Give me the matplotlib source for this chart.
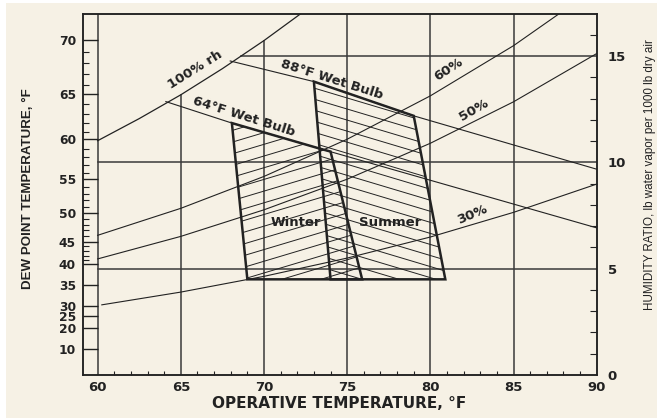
import numpy as np
import matplotlib
matplotlib.use("Agg")
import matplotlib.pyplot as plt
from matplotlib.patches import Polygon, Rectangle
from matplotlib import font_manager

# ---------------- data ----------------
sat_T = [60, 62.5, 65, 67.5, 70, 72.5]
sat_W = [11.02, 12.06, 13.18, 14.41, 15.73, 17.16]

rh_T = [60, 65, 70, 75, 80, 85, 90]
rh60_W = [6.57, 7.84, 9.34, 11.09, 13.13, 15.49, 18.23]
rh50_W = [5.46, 6.52, 7.77, 9.21, 10.90, 12.85, 15.12]
rh30_T = [60.25, 65, 70, 75, 80, 85, 90]
rh30_W = [3.30, 3.90, 4.64, 5.50, 6.49, 7.65, 8.98]

wb64_T = [64.10, 68.07, 73.39, 90.0]
wb64_W = [12.86, 11.85, 10.64, 6.92]
wb68_T = [67.97, 73.0, 79.0, 90.0]
wb68_W = [14.77, 13.80, 12.19, 9.68]

winter_T = [68.07, 73.39, 74.0, 75.9, 69.0]
winter_W = [11.85, 10.64, 10.51, 4.5, 4.5]
summer_T = [73.0, 79.0, 80.9, 74.0]
summer_W = [13.80, 12.19, 4.5, 4.5]

x_ticks = [60, 65, 70, 75, 80, 85, 90]
dp_labels = ["70", "65", "60", "55", "50", "45", "40", "35", "30", "25", "20", "10"]
dp_W = [15.76, 13.21, 11.10, 9.22, 7.64, 6.26, 5.20, 4.21, 3.24, 2.77, 2.23, 1.24]
dp_minor = [41, 42, 43, 44, 46, 47, 48, 49, 51, 52, 53, 54, 56, 57, 58, 59,
            61, 62, 63, 64, 66, 67, 68, 69]
w_ticks = [0, 5, 10, 15]
w_minor = [1, 2, 3, 4, 6, 7, 8, 9, 11, 12, 13, 14, 16]
grid_T = [60, 65, 70, 75, 80, 85]
grid_W = [5, 10, 15]


def dewpoint_to_W(tf):
    tc = (np.asarray(tf, float) - 32) / 1.8
    pw = 0.61094 * np.exp(17.625 * tc / (tc + 243.04))
    return 622 * pw / (101.325 - pw)


# ---------------- style ----------------
BG = "#f6f1e5"
INK = "#222222"
GRID = "#3a3a3a"
plt.rcParams["font.family"] = ["DejaVu Sans"]
plt.rcParams["font.weight"] = "bold"

names = {f.name for f in font_manager.fontManager.ttflist}
if "Liberation Sans Narrow" in names:
    side_fam, side_bold_fs, side_reg_fs = "Liberation Sans Narrow", 11.5, 10.2
else:
    side_fam, side_bold_fs, side_reg_fs = "Liberation Sans", 9.6, 8.4

fig = plt.figure(figsize=(6.57, 4.18), dpi=100)
fig.patch.set_facecolor("white")
fig.patches.append(Rectangle((6 / 657, 0), 1, 1 - 3 / 418, transform=fig.transFigure,
                             facecolor=BG, edgecolor="none", zorder=-10))

ax = fig.add_axes([83 / 657, 1 - 375 / 418, (596.7 - 83) / 657, (375 - 14) / 418])
ax.set_facecolor(BG)
XL, YT = 59.12, 16.98
ax.set_xlim(XL, 90.0)
ax.set_ylim(0, YT)

# grid lines
for t in grid_T:
    top = YT if t == 60 else min(YT, float(np.interp(t, sat_T, sat_W)))
    ax.plot([t, t], [0, top], color=GRID, lw=1.1, zorder=1)
for w in grid_W:
    start = max(60.0, float(np.interp(w, sat_W, sat_T)))
    ax.plot([start, 90], [w, w], color=GRID, lw=1.1, zorder=1)

# RH curves
ax.plot(sat_T, sat_W, color=INK, lw=0.9, zorder=2)
ax.plot(rh_T, rh60_W, color=INK, lw=0.8, zorder=2)
ax.plot(rh_T, rh50_W, color=INK, lw=0.8, zorder=2)
ax.plot(rh30_T, rh30_W, color=INK, lw=0.8, zorder=2)

# wet bulb lines
ax.plot(wb64_T, wb64_W, color=INK, lw=0.8, zorder=2)
ax.plot(wb68_T, wb68_W, color=INK, lw=0.8, zorder=2)

# comfort zones
winter = Polygon(list(zip(winter_T, winter_W)), closed=True, fill=False,
                 edgecolor=INK, lw=1.8, zorder=4)
summer = Polygon(list(zip(summer_T, summer_W)), closed=True, fill=False,
                 edgecolor=INK, lw=1.8, zorder=4)
ax.add_patch(winter)
ax.add_patch(summer)


def hatch(patch, slope, spacing):
    for c in np.arange(-4, 22, spacing):
        tt = np.array([55.0, 95.0])
        ln, = ax.plot(tt, c + slope * (tt - 70), color=INK, lw=0.7, zorder=3)
        ln.set_clip_path(patch)


hatch(winter, 0.234, 0.55)
hatch(summer, -0.234, 0.52)

# texts
txt = dict(color=INK, fontsize=9.5, fontweight="bold", ha="center", va="center",
           rotation_mode="anchor")
ax.text(65.86, 14.35, "100% rh", rotation=32, **txt)
ax.text(68.81, 12.15, "64°F Wet Bulb", rotation=-17.5, **txt)
ax.text(74.05, 13.88, "88°F Wet Bulb", rotation=-17.5, **txt)
ax.text(81.1, 14.35, "60%", rotation=33, **txt)
ax.text(82.6, 12.47, "50%", rotation=30, **txt)
ax.text(82.5, 7.54, "30%", rotation=23, **txt)
ax.text(71.89, 7.18, "Winter", rotation=0, **txt)
ax.text(77.61, 7.18, "Summer", rotation=0, **txt)

# x axis ticks
ax.set_xticks(x_ticks)
ax.set_xticklabels([str(v) for v in x_ticks])
ax.set_xticks([v for v in range(61, 90) if v % 5], minor=True)
ax.tick_params(axis="x", which="major", length=0, pad=4.5, labelsize=9.5,
               labelcolor=INK)
ax.tick_params(axis="x", which="minor", direction="in", length=3, width=0.8,
               color=INK)

# left (dew point) ticks
ax.set_yticks(dp_W)
ax.set_yticklabels(dp_labels)
ax.set_yticks(dewpoint_to_W(dp_minor), minor=True)
ax.tick_params(axis="y", which="major", direction="in", length=10.5, width=1.0,
               pad=5, labelsize=8.8, labelcolor=INK, color=INK)
ax.tick_params(axis="y", which="minor", direction="in", length=4.3, width=0.8,
               color=INK)
for tk, lab in zip(ax.yaxis.get_major_ticks(), dp_labels):
    if lab == "25":
        tk.tick1line.set_visible(False)

# right (humidity ratio) axis
ax2 = ax.twinx()
ax2.set_ylim(0, YT)
ax2.set_yticks(w_ticks)
ax2.set_yticklabels([str(v) for v in w_ticks])
ax2.set_yticks(w_minor, minor=True)
ax2.tick_params(axis="y", which="major", direction="in", length=0, pad=8,
                labelsize=9.5, labelcolor=INK)
ax2.tick_params(axis="y", which="minor", direction="in", length=5, width=0.8,
                color=INK)

for a in (ax, ax2):
    for s in a.spines.values():
        s.set_linewidth(1.1)
        s.set_color(INK)

# axis titles
fig.text(339 / 657, 1 - 403 / 418, "OPERATIVE TEMPERATURE, °F", ha="center",
         va="center", fontsize=11, fontweight="bold", color=INK)
fig.text(28 / 657, 1 - 189 / 418, "DEW POINT TEMPERATURE, °F", ha="center",
         va="center", rotation=90, fontsize=side_bold_fs, fontweight="bold",
         family=side_fam, color=INK)
fig.text(650 / 657, 1 - 175 / 418,
         "HUMIDITY RATIO, lb water vapor per 1000 lb dry air", ha="center",
         va="center", rotation=90, fontsize=side_reg_fs, fontweight="normal",
         family=side_fam, color=INK)

fig.savefig("out.png", dpi=100, facecolor=fig.get_facecolor())
